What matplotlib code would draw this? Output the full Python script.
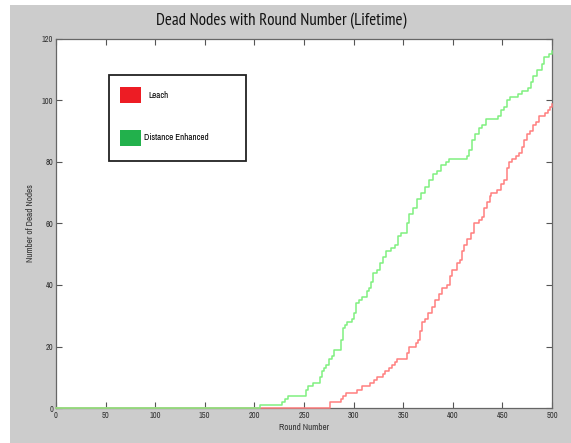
import matplotlib
matplotlib.use("Agg")
import matplotlib.pyplot as plt
from matplotlib.patches import Rectangle

# -----------------------------
# Data (step events: value holds from that round on)
# -----------------------------
rounds_leach = [0, 276, 287, 289, 292, 303, 308, 317, 321, 324, 330, 332, 336, 339,
                342, 344, 354, 356, 363, 365, 367, 369, 372, 375, 379, 382, 386, 389,
                394, 397, 399, 404, 407, 409, 411, 414, 418, 421, 426, 429, 431, 434,
                437, 439, 445, 449, 452, 455, 457, 460, 464, 467, 470, 472, 475, 478,
                481, 484, 487, 493, 496, 498, 500]
dead_leach = [0, 2, 3, 4, 5, 6, 7, 8, 9, 10, 11, 12, 13, 14,
              15, 16, 18, 20, 21, 22, 25, 28, 29, 31, 33, 35, 37, 39,
              40, 43, 45, 47, 48, 51, 53, 55, 57, 60, 61, 62, 65, 67,
              69, 70, 71, 73, 74, 78, 80, 81, 82, 83, 85, 87, 89, 90,
              92, 93, 95, 96, 97, 98, 99]

rounds_dist = [0, 206, 228, 231, 234, 252, 254, 259, 266, 268, 270, 272, 275, 278,
               280, 287, 289, 291, 293, 298, 300, 302, 305, 308, 314, 316, 318, 320,
               324, 327, 330, 333, 338, 342, 345, 348, 354, 356, 360, 364, 368, 372,
               376, 380, 384, 388, 393, 396, 414, 416, 419, 422, 426, 429, 433, 446,
               449, 452, 455, 458, 466, 470, 476, 479, 481, 485, 490, 492, 497, 500]
dead_dist = [0, 1, 2, 3, 4, 6, 7, 8, 10, 12, 13, 14, 16, 17,
             19, 22, 26, 27, 28, 29, 31, 34, 35, 36, 38, 39, 41, 44,
             45, 47, 49, 51, 52, 53, 56, 57, 60, 63, 65, 68, 70, 72,
             74, 76, 77, 79, 80, 81, 82, 84, 87, 89, 91, 92, 94, 95,
             97, 98, 100, 101, 102, 103, 104, 106, 108, 110, 112, 114, 115, 116]

x_ticks = [0, 50, 100, 150, 200, 250, 300, 350, 400, 450, 500]
y_ticks = [0, 20, 40, 60, 80, 100, 120]
legend_labels = ["Leach", "Distance Enhanced"]

# -----------------------------
# Figure
# -----------------------------
plt.rcParams["font.family"] = ["Archivo Narrow", "DejaVu Sans"]

W, H = 571, 443
fig = plt.figure(figsize=(W / 100, H / 100), dpi=100)
fig.patch.set_facecolor("white")
fig.patches.append(Rectangle((10 / W, 0), (W - 10) / W, (H - 5) / H,
                             transform=fig.transFigure, facecolor="#cccccc",
                             edgecolor="none", zorder=-10))

ax = fig.add_axes([56 / W, (H - 408) / H, 496 / W, 369 / H])
ax.set_facecolor("white")

ax.plot(rounds_leach, dead_leach, drawstyle="steps-post", color="#ff7f7f",
        lw=1.1, zorder=3, clip_on=False)
ax.plot(rounds_dist, dead_dist, drawstyle="steps-post", color="#80f080",
        lw=1.1, zorder=3, clip_on=False)

ax.set_xlim(0, 500)
ax.set_ylim(0, 120)
ax.set_xticks(x_ticks)
ax.set_yticks(y_ticks)
ax.tick_params(direction="in", length=4, width=0.8, color="#555555",
               labelsize=6, labelcolor="#333333", top=True, right=True, pad=2)
for s in ax.spines.values():
    s.set_color("#666666")
    s.set_linewidth(0.9)

fig.text(281 / W, 1 - 21 / H, "Dead Nodes with Round Number (Lifetime)",
         family=["PT Sans Narrow", "DejaVu Sans"], fontsize=12.2,
         color="#111111", ha="center", va="center")
ax.set_xlabel("Round Number", fontsize=6.5, color="#333333", labelpad=2)
ax.set_ylabel("Number of Dead Nodes", fontsize=6.5, color="#333333")
ax.yaxis.set_label_coords(-21 / 496, 0.5)

# -----------------------------
# Legend box (pasted style)
# -----------------------------
def px(x, y):
    return x / W, 1 - y / H

bx, by = px(109, 161)
fig.patches.append(Rectangle((bx, by), (246 - 109) / W, (161 - 75) / H,
                             transform=fig.transFigure, facecolor="white",
                             edgecolor="#222222", lw=1.3, zorder=5))
for (top, col) in [(87, "#ed1c24"), (130, "#22b14c")]:
    rx, ry = px(120, top + 16)
    fig.patches.append(Rectangle((rx, ry), 21 / W, 16 / H, transform=fig.transFigure,
                                 facecolor=col, edgecolor="none", zorder=6))
tx, ty = px(148, 96)
fig.text(tx, ty, legend_labels[0], fontsize=6.5, va="center", ha="left", zorder=7)
tx, ty = px(144, 138)
fig.text(tx, ty, legend_labels[1], fontsize=6.5, va="center", ha="left", zorder=7)

fig.savefig("out.png", dpi=100, facecolor=fig.get_facecolor())
